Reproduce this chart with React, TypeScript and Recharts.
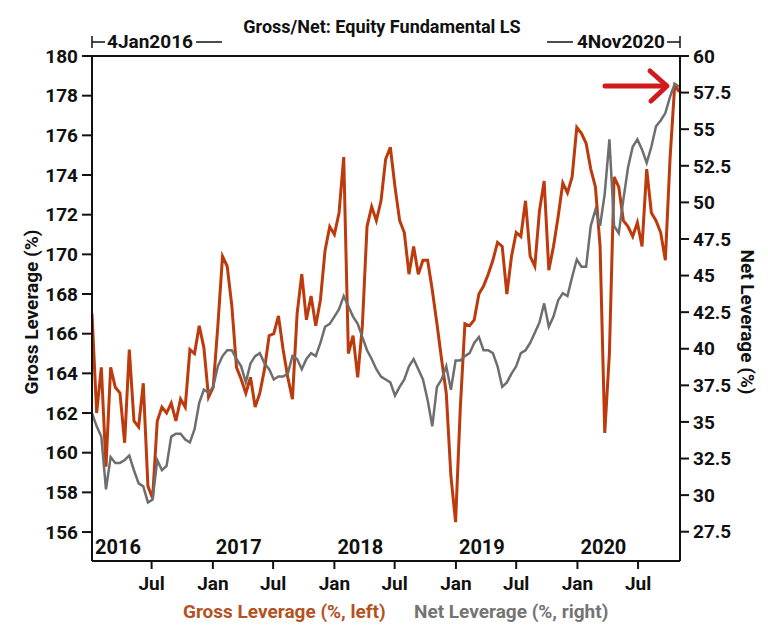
import React from 'react'
import { LineChart, Line, XAxis, YAxis, ReferenceLine } from 'recharts'

// biweekly readings, 4 Jan 2016 .. 2 Nov 2020
const dates = [
  '2016-01-04', '2016-01-18', '2016-02-01', '2016-02-15', '2016-02-29', '2016-03-14', '2016-03-28', '2016-04-11',
  '2016-04-25', '2016-05-09', '2016-05-23', '2016-06-06', '2016-06-20', '2016-07-04', '2016-07-18', '2016-08-01',
  '2016-08-15', '2016-08-29', '2016-09-12', '2016-09-26', '2016-10-10', '2016-10-24', '2016-11-07', '2016-11-21',
  '2016-12-05', '2016-12-19',
  '2017-01-02', '2017-01-16', '2017-01-30', '2017-02-13', '2017-02-27', '2017-03-13', '2017-03-27', '2017-04-10',
  '2017-04-24', '2017-05-08', '2017-05-22', '2017-06-05', '2017-06-19', '2017-07-03', '2017-07-17', '2017-07-31',
  '2017-08-14', '2017-08-28', '2017-09-11', '2017-09-25', '2017-10-09', '2017-10-23', '2017-11-06', '2017-11-20',
  '2017-12-04', '2017-12-18',
  '2018-01-01', '2018-01-15', '2018-01-29', '2018-02-12', '2018-02-26', '2018-03-12', '2018-03-26', '2018-04-09',
  '2018-04-23', '2018-05-07', '2018-05-21', '2018-06-04', '2018-06-18', '2018-07-02', '2018-07-16', '2018-07-30',
  '2018-08-13', '2018-08-27', '2018-09-10', '2018-09-24', '2018-10-08', '2018-10-22', '2018-11-05', '2018-11-19',
  '2018-12-03', '2018-12-17', '2018-12-31',
  '2019-01-14', '2019-01-28', '2019-02-11', '2019-02-25', '2019-03-11', '2019-03-25', '2019-04-08', '2019-04-22',
  '2019-05-06', '2019-05-20', '2019-06-03', '2019-06-17', '2019-07-01', '2019-07-15', '2019-07-29', '2019-08-12',
  '2019-08-26', '2019-09-09', '2019-09-23', '2019-10-07', '2019-10-21', '2019-11-04', '2019-11-18', '2019-12-02',
  '2019-12-16', '2019-12-30',
  '2020-01-13', '2020-01-27', '2020-02-10', '2020-02-24', '2020-03-09', '2020-03-23', '2020-04-06', '2020-04-20',
  '2020-05-04', '2020-05-18', '2020-06-01', '2020-06-15', '2020-06-29', '2020-07-13', '2020-07-27', '2020-08-10',
  '2020-08-24', '2020-09-07', '2020-09-21', '2020-10-05', '2020-10-19', '2020-11-02',
]

const grossLeverage = [
  167.0, 162.0, 164.3, 159.3, 164.3, 163.3, 163.0, 160.5, 165.2, 161.6, 161.3, 163.5, 158.3, 157.7, 161.6, 162.3,
  162.0, 162.5, 161.6, 162.7, 162.3, 165.2, 165.0, 166.4, 165.3, 162.8,
  163.3, 166.4, 169.9, 169.4, 167.4, 164.3, 163.7, 163.0, 163.8, 162.3, 163.0, 164.2, 165.9, 166.0, 166.9, 165.2,
  163.8, 162.7, 167.0, 169.0, 166.7, 167.9, 166.4, 167.7, 170.2, 171.4,
  171.0, 172.1, 174.9, 165.0, 165.9, 163.8, 166.4, 171.4, 172.4, 171.7, 172.7, 174.8, 175.4, 173.4, 171.7, 171.1,
  169.0, 170.4, 169.0, 169.7, 169.7, 168.2, 166.5, 164.7, 163.0, 158.8, 156.5,
  162.2, 166.5, 166.4, 166.7, 168.0, 168.4, 169.0, 169.7, 170.6, 170.4, 168.0, 169.9, 171.1, 170.9, 172.7, 169.9,
  169.4, 172.2, 173.7, 169.2, 170.4, 171.9, 173.6, 173.1, 173.9, 176.4,
  176.1, 175.6, 174.3, 173.4, 170.4, 161.0, 165.0, 173.9, 173.4, 171.7, 171.4, 170.9, 171.6, 170.4, 174.3, 172.1,
  171.7, 171.1, 169.7, 174.8, 178.5, 178.2,
]

const netLeverage = [
  35.6, 34.7, 34.0, 30.4, 32.6, 32.2, 32.2, 32.4, 32.7, 31.7, 30.8, 30.6, 29.5, 29.7, 32.4, 31.7,
  32.0, 34.0, 34.2, 34.2, 33.8, 33.6, 34.5, 36.3, 37.2, 37.0,
  37.4, 38.8, 39.5, 39.9, 39.9, 39.3, 38.8, 37.7, 39.0, 39.5, 39.7, 39.0, 38.6, 37.9, 38.1, 38.1,
  38.3, 39.5, 39.3, 38.6, 39.3, 39.7, 39.5, 40.4, 41.5, 41.7,
  42.2, 42.7, 43.6, 42.9, 42.2, 41.7, 40.8, 39.9, 39.3, 38.6, 38.1, 37.9, 37.7, 36.8, 37.4, 37.9,
  38.8, 39.3, 38.6, 37.9, 36.5, 34.7, 37.4, 37.9, 38.8, 37.2, 39.2,
  39.2, 39.5, 39.7, 40.4, 40.8, 39.9, 39.9, 39.7, 38.8, 37.4, 37.7, 38.3, 38.8, 39.7, 39.9, 40.4,
  41.1, 41.8, 43.1, 41.5, 42.2, 43.3, 43.8, 43.6, 44.9, 46.1,
  45.6, 45.6, 48.4, 49.5, 48.4, 50.6, 54.3, 48.4, 47.9, 50.2, 52.4, 53.8, 54.3, 53.6, 52.7, 53.8,
  55.2, 55.6, 56.1, 57.2, 58.1, 57.9,
]

const leftTicks = [156, 158, 160, 162, 164, 166, 168, 170, 172, 174, 176, 178, 180]
const rightTicks = [27.5, 30, 32.5, 35, 37.5, 40, 42.5, 45, 47.5, 50, 52.5, 55, 57.5, 60]
const xTickDates = [
  '2016-01-04', '2016-07-01', '2017-01-01', '2017-07-01', '2018-01-01', '2018-07-01',
  '2019-01-01', '2019-07-01', '2020-01-01', '2020-07-01',
]
const startDate = '2016-01-04'
const endDate = '2020-11-04'

const GROSS = '#BC3A0C'
const NET = '#6E6E6E'
const INK = '#111'
const FONT = 'Roboto, "Noto Sans", sans-serif'

const toTime = (d: string) => Date.parse(d + 'T00:00:00Z')

const data = dates.map((d, i) => ({
  t: toTime(d),
  gross: grossLeverage[i],
  net: netLeverage[i],
}))

const tickStyle = { fill: INK, fontSize: 19, fontWeight: 700, fontFamily: FONT }
const axisStroke = { stroke: INK, strokeWidth: 2 }

const DateTick = (props: any) => {
  const { x, y, payload } = props
  const d = new Date(payload.value)
  const month = d.getUTCMonth()
  const isStart = payload.value === toTime(startDate)
  return (
    <g>
      {!isStart && <line x1={x} x2={x} y1={y} y2={y + 8} stroke={INK} strokeWidth={2} />}
      {!isStart && (
        <text x={x} y={y + 29} textAnchor="middle" {...tickStyle}>
          {month === 0 ? 'Jan' : 'Jul'}
        </text>
      )}
      {month === 0 && (
        <text x={x + 3} y={y - 7} textAnchor="start" {...tickStyle} fontSize={20}>
          {d.getUTCFullYear()}
        </text>
      )}
    </g>
  )
}

const App = () => {
  return (
    <div style={{ position: 'absolute', left: 0, top: 0, width: 768, height: 634, background: '#fff' }}>
      <LineChart width={768} height={634} data={data} margin={{ top: 56, right: 28, bottom: 43, left: 32 }}>
        <XAxis
          dataKey="t"
          type="number"
          domain={[toTime(startDate), toTime(endDate)]}
          ticks={xTickDates.map(toTime)}
          interval={0}
          tick={<DateTick />}
          tickLine={false}
          tickSize={0}
          tickMargin={0}
          axisLine={axisStroke}
          height={30}
          allowDataOverflow
        />
        <YAxis
          yAxisId="left"
          domain={[154.54, 180]}
          ticks={leftTicks}
          width={60}
          tickSize={10}
          tickMargin={4}
          axisLine={axisStroke}
          tickLine={axisStroke}
          tick={tickStyle}
          allowDataOverflow
        />
        <YAxis
          yAxisId="right"
          orientation="right"
          domain={[25.5, 60]}
          ticks={rightTicks}
          width={60}
          tickSize={9}
          tickMargin={4}
          axisLine={axisStroke}
          tickLine={axisStroke}
          tick={tickStyle}
          allowDataOverflow
        />
        <ReferenceLine yAxisId="left" y={180} stroke={INK} strokeWidth={2} />
        <Line
          yAxisId="left"
          dataKey="gross"
          type="linear"
          stroke={GROSS}
          strokeWidth={3}
          dot={false}
          isAnimationActive={false}
        />
        <Line
          yAxisId="right"
          dataKey="net"
          type="linear"
          stroke={NET}
          strokeWidth={2.5}
          dot={false}
          isAnimationActive={false}
        />
      </LineChart>

      <svg
        width={768}
        height={634}
        style={{ position: 'absolute', left: 0, top: 0, pointerEvents: 'none' }}
        fontFamily={FONT}
        fontWeight={700}
      >
        <text x={382} y={33} textAnchor="middle" fontSize={18} fill={INK}>
          Gross/Net: Equity Fundamental LS
        </text>

        {/* period bracket */}
        <line x1={92} x2={92} y1={36} y2={48} stroke={INK} strokeWidth={1.5} />
        <line x1={92} x2={105} y1={42} y2={42} stroke={INK} strokeWidth={1.5} />
        <text x={107} y={48} fontSize={19} fill={INK}>4Jan2016</text>
        <line x1={196} x2={222} y1={42} y2={42} stroke={INK} strokeWidth={1.5} />
        <line x1={547} x2={573} y1={42} y2={42} stroke={INK} strokeWidth={1.5} />
        <text x={665} y={48} fontSize={19} fill={INK} textAnchor="end">4Nov2020</text>
        <line x1={667} x2={680} y1={42} y2={42} stroke={INK} strokeWidth={1.5} />
        <line x1={680} x2={680} y1={36} y2={48} stroke={INK} strokeWidth={1.5} />

        <text transform="translate(38,312) rotate(-90)" textAnchor="middle" fontSize={19} fill={INK}>
          Gross Leverage (%)
        </text>
        <text transform="translate(741,322) rotate(90)" textAnchor="middle" fontSize={19} fill={INK}>
          Net Leverage (%)
        </text>

        <text x={183} y={618} fontSize={19} fill="#B4521F">Gross Leverage (%, left)</text>
        <text x={414} y={618} fontSize={19} fill="#747474">Net Leverage (%, right)</text>

        {/* red arrow */}
        <g stroke="#D01A1C" strokeWidth={5} strokeLinecap="round" strokeLinejoin="round" fill="none">
          <line x1={605} x2={665} y1={86} y2={86} />
          <polyline points="650,71 667,86 651,101" />
        </g>
      </svg>
    </div>
  )
}

export default App
